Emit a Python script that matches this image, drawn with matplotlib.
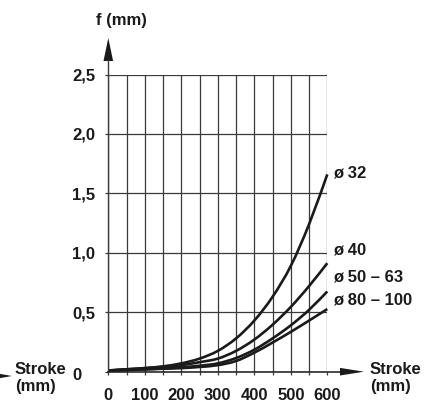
import matplotlib
matplotlib.use("Agg")
import matplotlib.pyplot as plt
import numpy as np
from matplotlib.path import Path
from matplotlib.patches import PathPatch, Polygon
from matplotlib.transforms import ScaledTranslation
from matplotlib.lines import Line2D

# Deflection f (mm) versus stroke (mm) for each bore size
stroke = [0, 50, 100, 150, 200, 250, 300, 350, 400, 450, 500, 550, 600]
f_32 = [0.01, 0.02, 0.03, 0.045, 0.07, 0.11, 0.175, 0.28, 0.43, 0.63, 0.89, 1.24, 1.66]
f_40 = [0.01, 0.02, 0.03, 0.04, 0.055, 0.08, 0.11, 0.175, 0.27, 0.395, 0.545, 0.72, 0.913]
f_50_63 = [0.01, 0.015, 0.02, 0.027, 0.037, 0.05, 0.07, 0.115, 0.185, 0.28, 0.39, 0.52, 0.675]
f_80_100 = [0.01, 0.015, 0.02, 0.025, 0.03, 0.04, 0.055, 0.09, 0.16, 0.245, 0.335, 0.43, 0.527]
series_labels = ["ø 32", "ø 40", "ø 50 – 63", "ø 80 – 100"]

x_ticks = [0, 100, 200, 300, 400, 500, 600]
x_tick_labels = ["0", "100", "200", "300", "400", "500", "600"]
y_ticks = [0, 0.5, 1.0, 1.5, 2.0, 2.5]
y_tick_labels = ["0", "0,5", "1,0", "1,5", "2,0", "2,5"]

W, H, DPI = 427, 403, 100
FONT = "Liberation Sans"
FS = 12
INK = "#1a1a1a"
GRID = "#3a3a3a"

fig = plt.figure(figsize=(W / DPI, H / DPI), dpi=DPI)


def fp(x, y):
    """Pixel position (from top-left) to figure fraction."""
    return (x / W, 1 - y / H)


ax_l, ax_r, ax_t, ax_b = 108.3, 327.3, 74.5, 371.7
ax = fig.add_axes([ax_l / W, 1 - ax_b / H, (ax_r - ax_l) / W, (ax_b - ax_t) / H])
ax.set_xlim(0, 600)
ax.set_ylim(0, 2.5)
for s in ax.spines.values():
    s.set_visible(False)

ax.set_xticks(x_ticks)
ax.set_xticklabels(x_tick_labels)
ax.set_xticks(np.arange(50, 600, 100), minor=True)
ax.set_yticks(y_ticks)
ax.set_yticklabels(y_tick_labels)
ax.grid(True, which="both", color=GRID, linewidth=0.9)
ax.tick_params(which="both", direction="out", length=2.5, width=0.9, color=GRID)
ax.tick_params(axis="x", pad=9.5)
ax.tick_params(axis="y", pad=7)
for lab in ax.get_xticklabels() + ax.get_yticklabels():
    lab.set_fontfamily(FONT)
    lab.set_fontweight("bold")
    lab.set_fontsize(FS)
    lab.set_color(INK)
# zero of the vertical scale sits a bit further left
for lab in ax.get_yticklabels():
    if lab.get_text() == "0":
        lab.set_transform(lab.get_transform() + ScaledTranslation(-10 / 72, -1.5 / 72, fig.dpi_scale_trans))


def smooth_path(xs, ys):
    """Catmull-Rom style cubic Bezier path through the given points."""
    pts = np.column_stack([xs, ys]).astype(float)
    verts = [pts[0]]
    codes = [Path.MOVETO]
    n = len(pts)
    for i in range(n - 1):
        p0 = pts[i - 1] if i > 0 else pts[i]
        p1 = pts[i]
        p2 = pts[i + 1]
        p3 = pts[i + 2] if i + 2 < n else pts[i + 1]
        c1 = p1 + (p2 - p0) / 6.0
        c2 = p2 - (p3 - p1) / 6.0
        verts += [c1, c2, p2]
        codes += [Path.CURVE4] * 3
    return Path(verts, codes)


for ys in (f_32, f_40, f_50_63, f_80_100):
    patch = PathPatch(smooth_path(stroke, ys), facecolor="none", edgecolor=INK,
                      linewidth=1.9, capstyle="butt", zorder=3, clip_on=False)
    ax.add_patch(patch)

# series labels just right of the curve ends
label_y = [172.7, 250.0, 277.3, 300.0]
for txt, yy in zip(series_labels, label_y):
    fig.text(*fp(333, yy), txt, ha="left", va="center", fontsize=FS,
             fontfamily=FONT, fontweight="bold", color=INK)

# vertical axis with arrow
fig.add_artist(Line2D([fp(ax_l, ax_b)[0], fp(ax_l, 60)[0]],
                      [fp(ax_l, ax_b)[1], fp(ax_l, 60)[1]],
                      transform=fig.transFigure, color=GRID, linewidth=1.0))
fig.add_artist(Polygon([fp(ax_l - 4.8, 61), fp(ax_l + 4.8, 61), fp(ax_l, 38)],
                       closed=True, transform=fig.transFigure, color=INK, lw=0))

# horizontal axis with arrow
fig.add_artist(Line2D([fp(ax_l, ax_b)[0], fp(342, ax_b)[0]],
                      [fp(ax_l, ax_b)[1], fp(342, ax_b)[1]],
                      transform=fig.transFigure, color=INK, linewidth=1.1))
fig.add_artist(Polygon([fp(340, ax_b - 3.8), fp(340, ax_b + 3.8), fp(364, ax_b)],
                       closed=True, transform=fig.transFigure, color=INK, lw=0))

# arrow entering from the left edge
fig.add_artist(Polygon([fp(-8, 372.5), fp(-8, 379.5), fp(12, 376)],
                       closed=True, transform=fig.transFigure, color=INK, lw=0))

# axis titles
fig.text(*fp(121, 20), "f (mm)", ha="center", va="center", fontsize=FS,
         fontfamily=FONT, fontweight="bold", color=INK)
fig.text(*fp(15, 378), "Stroke\n(mm)", ha="left", va="center", fontsize=FS,
         fontfamily=FONT, fontweight="bold", color=INK, linespacing=1.2)
fig.text(*fp(370, 378), "Stroke\n(mm)", ha="left", va="center", fontsize=FS,
         fontfamily=FONT, fontweight="bold", color=INK, linespacing=1.2)

fig.savefig("out.png", dpi=DPI)
